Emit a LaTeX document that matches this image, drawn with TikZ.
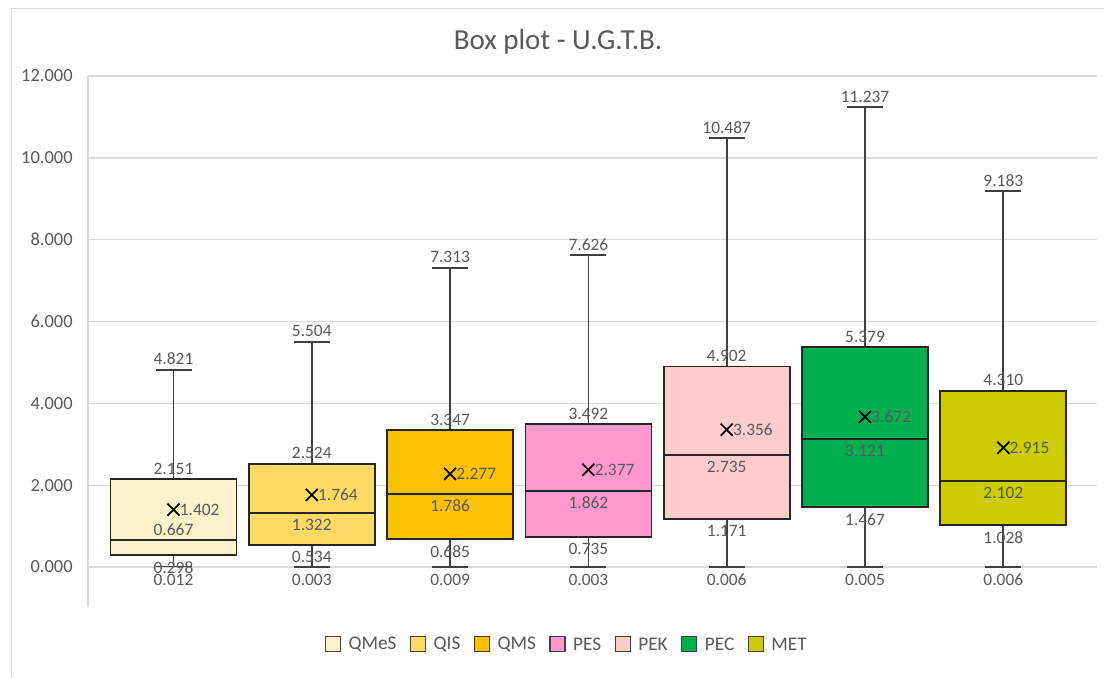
\documentclass[tikz,border=0pt]{standalone}
\usepackage{fontspec}
\setmainfont{Carlito}
\usetikzlibrary{positioning}
\definecolor{cgrid}{HTML}{D9D9D9}
\definecolor{ctext}{HTML}{595959}
\definecolor{cline}{HTML}{404040}
\definecolor{cqmes}{HTML}{FFF2CC}
\definecolor{cqis}{HTML}{FFD966}
\definecolor{cqms}{HTML}{FFC000}
\definecolor{cpes}{HTML}{FF99CC}
\definecolor{cpek}{HTML}{FFCCCC}
\definecolor{cpec}{HTML}{00B050}
\definecolor{cmet}{HTML}{CCCC00}
\tikzset{grid line/.style = {cgrid, line width=0.8pt}}
\tikzset{whisker/.style = {cline, line width=1pt}}
\tikzset{boxbody/.style = {draw=black!85, line width=1pt}}
\tikzset{mean mark/.style = {black, line width=1pt}}
\tikzset{vlab/.style = {text=ctext, inner sep=0pt, font=\fontsize{9.9}{11}\selectfont}}
\tikzset{axlab/.style = {text=ctext, inner sep=0pt, anchor=east, font=\fontsize{10.5}{12}\selectfont}}
\tikzset{legkey/.style = {draw=cline, line width=0.8pt, inner sep=0pt, minimum size=0.3cm}}
\tikzset{legtext/.style = {text=ctext, inner sep=0pt, font=\fontsize{11}{13}\selectfont}}

\begin{document}
\begin{tikzpicture}[x=0.02cm, y=0.02cm]
  \useasboundingbox (0,0) rectangle (1104,677);
  \draw [cgrid] (11,0) -- (11,669) -- (1104,669);
  \node [text=ctext, inner sep=0pt, font=\fontsize{16.5}{18}\selectfont] (title) at (558,635) {Box plot - U.G.T.B.};

  \begin{scope}[yshift=2.2cm, y=0.8184cm]
    \foreach \v in {0, 2, ..., 12} {
      \draw [grid line] (88,\v) -- (1097,\v);
      \node [axlab] (tick\v) at (73,\v) {\v.000};
    }
    \draw [grid line] (88,12) -- (88,-0.98);

    % min / Q1 / median / shift of median label / mean / Q3 / max
    \foreach \c/\lo/\qa/\me/\md/\mn/\qb/\hi [count=\i from 0] in {
        cqmes/0.012/0.298/0.667/5.7/1.402/2.151/4.821,
        cqis/0.003/0.534/1.322/-6.6/1.764/2.524/5.504,
        cqms/0.009/0.685/1.786/-6.6/2.277/3.347/7.313,
        cpes/0.003/0.735/1.862/-6.6/2.377/3.492/7.626,
        cpek/0.006/1.171/2.735/-6.6/3.356/4.902/10.487,
        cpec/0.005/1.467/3.121/-6.6/3.672/5.379/11.237,
        cmet/0.006/1.028/2.102/-6.6/2.915/4.310/9.183} {
      \pgfmathsetmacro\xc{173.5+138.3*\i}
      \draw [whisker] (\xc,\lo) -- (\xc,\hi);
      \draw [whisker] (\xc-18,\lo) -- (\xc+18,\lo);
      \draw [whisker] (\xc-18,\hi) -- (\xc+18,\hi);
      \filldraw [boxbody, fill=\c] (\xc-63,\qa) rectangle (\xc+63,\qb);
      \draw [boxbody] (\xc-63,\me) -- (\xc+63,\me);
      \draw [mean mark] (\xc-6,\mn-0.147) -- (\xc+6,\mn+0.147)
                        (\xc-6,\mn+0.147) -- (\xc+6,\mn-0.147);
      \node [vlab, above=2.5pt] (max\i) at (\xc,\hi) {\hi};
      \node [vlab, above=2.5pt] (qb\i) at (\xc,\qb) {\qb};
      \node [vlab, yshift=\md pt] (med\i) at (\xc,\me) {\me};
      \node [vlab, anchor=west] (mean\i) at (\xc+6,\mn) {\mn};
      \node [vlab, below=3.5pt] (qa\i) at (\xc,\qa) {\qa};
      \node [vlab, below=4pt] (min\i) at (\xc,\lo) {\lo};
    }
  \end{scope}

  % legend
  \foreach \n/\c [count=\i] in {QMeS/cqmes, QIS/cqis, QMS/cqms, PES/cpes,
                                PEK/cpek, PEC/cpec, MET/cmet} {
    \ifnum\i=1
      \node [legkey, fill=\c] (key\i) at (333,33) {};
    \else
      \pgfmathtruncatemacro\prev{\i-1}
      \node [legkey, fill=\c, right=0.26cm of leg\prev] (key\i) {};
    \fi
    \node [legtext, right=0.14cm of key\i] (leg\i) {\n};
  }
\end{tikzpicture}
\end{document}
